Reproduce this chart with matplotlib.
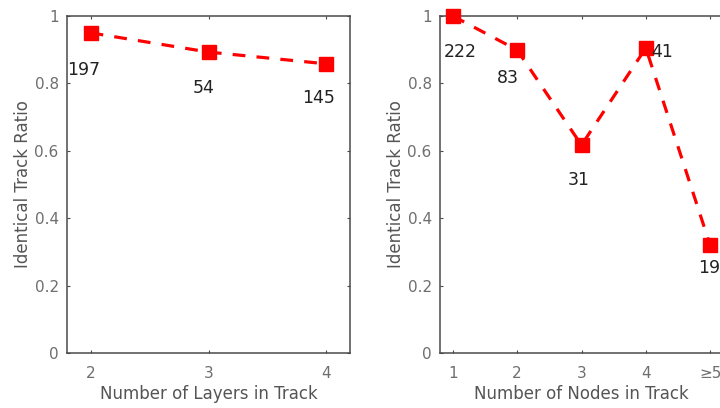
import matplotlib.pyplot as plt

# =========================
# data
# =========================

layers = [2, 3, 4]
layer_ratio = [0.95, 0.893, 0.858]
layer_counts = ["197", "54", "145"]
layer_label_x = [1.94, 2.96, 3.93]
layer_label_y = [0.84, 0.786, 0.757]

nodes = [1, 2, 3, 4, 5]
node_ticks = ["1", "2", "3", "4", "\u22655"]
node_ratio = [1.0, 0.899, 0.617, 0.905, 0.32]
node_counts = ["222", "83", "31", "41", "19"]
node_label_x = [1.11, 1.855, 2.96, 4.25, 4.98]
node_label_y = [0.893, 0.816, 0.513, 0.893, 0.252]

yticks = [0, 0.2, 0.4, 0.6, 0.8, 1]
ytick_labels = ["0", "0.2", "0.4", "0.6", "0.8", "1"]

AX_COLOR = "#4a4a4a"
TICK_COLOR = "#6e6e6e"
LABEL_COLOR = "#555555"


def style_axes(ax):
    for s in ax.spines.values():
        s.set_color(AX_COLOR)
        s.set_linewidth(1.1)
    ax.tick_params(direction="in", top=True, right=True, length=2.5,
                   colors=AX_COLOR, labelcolor=TICK_COLOR, labelsize=11)
    ax.tick_params(axis="x", pad=9)
    ax.tick_params(axis="y", pad=6)
    ax.set_ylim(0, 1)
    ax.set_yticks(yticks)
    ax.set_yticklabels(ytick_labels)
    ax.set_ylabel("Identical Track Ratio", fontsize=12, color=LABEL_COLOR,
                  labelpad=1.5)


fig = plt.figure(figsize=(7.2, 4.08), dpi=100)

# left panel
ax1 = fig.add_axes([67 / 720, 55 / 408, 283 / 720, 337 / 408])
ax1.plot(layers, layer_ratio, color="red", linestyle=(0, (4, 3.5)),
         linewidth=2.3, marker="s", markersize=10, clip_on=False, zorder=3)
for x, y, t in zip(layer_label_x, layer_label_y, layer_counts):
    ax1.text(x, y, t, ha="center", va="center", fontsize=12.5, color="#222222")
ax1.set_xlim(1.8, 4.2)
ax1.set_xticks(layers)
style_axes(ax1)
ax1.set_xlabel("Number of Layers in Track", fontsize=12, color=LABEL_COLOR,
               labelpad=3)

# right panel (cut off at figure edge like the reference)
ax2 = fig.add_axes([440 / 720, 55 / 408, 283 / 720, 337 / 408])
ax2.plot(nodes, node_ratio, color="red", linestyle=(0, (4, 3.5)),
         linewidth=2.3, marker="s", markersize=10, clip_on=False, zorder=3)
for x, y, t in zip(node_label_x, node_label_y, node_counts):
    ax2.text(x, y, t, ha="center", va="center", fontsize=12.5, color="#222222")
ax2.set_xlim(0.8, 5.2)
ax2.set_xticks(nodes)
ax2.set_xticklabels(node_ticks)
style_axes(ax2)
ax2.set_xlabel("Number of Nodes in Track", fontsize=12, color=LABEL_COLOR,
               labelpad=3)

fig.savefig("out.png", dpi=100)
